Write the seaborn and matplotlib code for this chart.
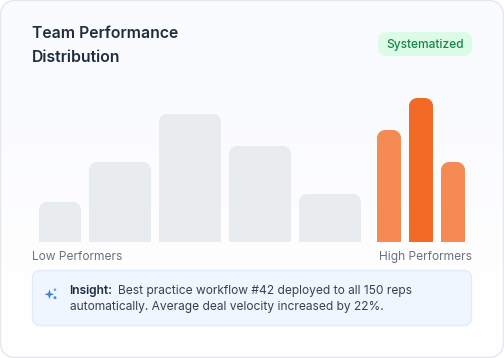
import matplotlib
matplotlib.use("Agg")
import matplotlib.pyplot as plt
import seaborn as sns
from matplotlib.patches import FancyBboxPatch, PathPatch
from matplotlib.path import Path
from matplotlib.colors import LinearSegmentedColormap

# values
groups = ["Low 1", "Low 2", "Low 3", "Low 4", "Low 5", "High 1", "High 2", "High 3"]
shares = [25, 50, 80, 60, 30, 70, 90, 50]
bar_colors = ["#e9ecee"] * 5 + ["#f58a55", "#f26b26", "#f58a55"]

# bar left edge and width in pixels
bar_x = [39, 89, 159, 229, 299, 377, 409, 441]
bar_w = [42, 62, 62, 62, 62, 24, 24, 24]

sns.set_theme(style="white")
plt.rcParams["font.family"] = ["Inter", "DejaVu Sans"]

px = 0.72  # css px to pt at dpi 100
fig = plt.figure(figsize=(5.04, 3.58), dpi=100, facecolor="white")

# background layer in pixel coordinates
bg = fig.add_axes([0, 0, 1, 1])
bg.axis("off")


def rbox(x0, y0, x1, y1, r, **kw):
    return FancyBboxPatch((x0 + r, y0 + r), x1 - x0 - 2 * r, y1 - y0 - 2 * r,
                          boxstyle=f"round,pad={r},rounding_size={r}", mutation_aspect=1, **kw)


def top_round(x0, x1, y0, y1, r):
    k = r * 0.45
    verts = [(x0, y1), (x0, y0 + r), (x0, y0 + k), (x0 + k, y0), (x0 + r, y0),
             (x1 - r, y0), (x1 - k, y0), (x1, y0 + k), (x1, y0 + r), (x1, y1), (x0, y1)]
    codes = [Path.MOVETO, Path.LINETO, Path.CURVE4, Path.CURVE4, Path.CURVE4,
             Path.LINETO, Path.CURVE4, Path.CURVE4, Path.CURVE4, Path.LINETO, Path.CLOSEPOLY]
    return Path(verts, codes)


# card with a soft top to bottom gradient
grad = LinearSegmentedColormap.from_list("card", ["#fafbfe", "#fefeff"])
im = bg.imshow([[0], [1]], cmap=grad, extent=(0, 504, 358, 0), aspect="auto",
               interpolation="bilinear", zorder=1)
bg.set_xlim(0, 504)
bg.set_ylim(358, 0)
card = rbox(0.5, 0.5, 503.5, 357.5, 16, fc="none", ec="none", transform=bg.transData)
bg.add_patch(card)
im.set_clip_path(card)
bg.add_patch(rbox(0.5, 0.5, 503.5, 357.5, 16, fc="none", ec="#e5e7eb", lw=1, zorder=2))

bg.text(32, 38, "Team Performance", fontsize=15.8 * px, fontweight="semibold", color="#1f2d3d",
        va="baseline", ha="left", zorder=3)
bg.text(32, 62, "Distribution", fontsize=15.8 * px, fontweight="semibold", color="#1f2d3d",
        va="baseline", ha="left", zorder=3)

bg.add_patch(rbox(378, 32, 472, 56, 8, fc="#dcfce7", ec="none", zorder=3))
bg.text(425, 48, "Systematized", fontsize=12 * px, fontweight="medium", color="#1b8348",
        va="baseline", ha="center", zorder=4)

bg.text(32, 260, "Low Performers", fontsize=12 * px, color="#6b7280", va="baseline", ha="left", zorder=3)
bg.text(472, 260, "High Performers", fontsize=12 * px, color="#6b7280", va="baseline", ha="right", zorder=3)

bg.add_patch(rbox(32.5, 270.5, 471.5, 325.5, 8, fc="#eff6ff", ec="#e0ebfb", lw=1, zorder=3))
bg.text(69.5, 294, "Insight:", fontsize=12 * px, fontweight="semibold", color="#1f2d3d",
        va="baseline", ha="left", zorder=4)
bg.text(118, 294, "Best practice workflow #42 deployed to all 150 reps", fontsize=12 * px,
        color="#374151", va="baseline", ha="left", zorder=4)
bg.text(70, 310, "automatically. Average deal velocity increased by 22%.", fontsize=12 * px,
        color="#374151", va="baseline", ha="left", zorder=4)

# sparkle icon
star = Path([(45.5, 294.3), (48.6, 293.4), (49.4, 290.3), (50.2, 293.4), (53.3, 294.3),
             (50.2, 295.2), (49.4, 298.3), (48.6, 295.2), (45.5, 294.3)])
bg.add_patch(PathPatch(star, fc="#3f7fe0", ec="#3f7fe0", lw=0.5, zorder=4))
bg.add_patch(plt.Circle((55, 289.7), 1.3, fc="#6b9fe8", ec="none", zorder=4))
bg.add_patch(plt.Circle((55, 297.7), 1.5, fc="#4f8ae2", ec="none", zorder=4))

# bars: 100 units over 160 px, baseline at y=242
ax = fig.add_axes([0, (358 - 242) / 358, 1, 160 / 358])
ax.patch.set_alpha(0)
sns.barplot(x=groups, y=shares, hue=groups, palette=bar_colors, legend=False, ax=ax, saturation=1)
ax.set_ylim(0, 100)
ax.axis("off")

# seaborn draws equal square bars, the reference has its own widths and rounded tops
for bar, x0, w in zip(ax.patches, bar_x, bar_w):
    top = 242 - bar.get_height() * 1.6
    ax.add_patch(PathPatch(top_round(x0, x0 + w, top, 242, 8), fc=bar.get_facecolor(), ec="none",
                           transform=bg.transData, clip_on=False, snap=False))
    bar.set_visible(False)

fig.savefig("out.png", dpi=100)
